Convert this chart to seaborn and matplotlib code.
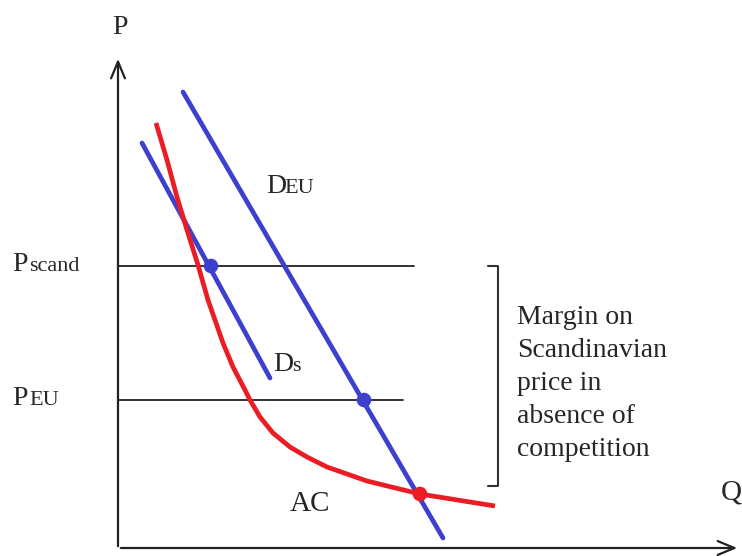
import matplotlib
matplotlib.use("Agg")
import pandas as pd
import matplotlib.pyplot as plt
import seaborn as sns

# demand lines (Q, P) end points
deu_q = [65, 325]
deu_p = [456, 10]
ds_q = [24, 152]
ds_p = [405, 170]

# price levels
p_scand = 282
p_eu = 148
scand_q = [0, 296]
eu_q = [0, 285]

# average cost curve
ac_q = [38, 49, 59, 69, 80, 90, 97, 105, 115, 127, 132, 142, 155, 172, 189, 209, 249, 302, 377]
ac_p = [425, 388, 351, 318, 283, 248, 228, 205, 181, 158, 148, 131, 115, 101, 91, 81, 67, 54, 42]

# marked points
blue_q = [93, 246]
blue_p = [282, 148]
red_q = [302]
red_p = [54]

margin_text = "Margin on\nScandinavian\nprice in\nabsence of\ncompetition"

blue = "#3d40cf"
red = "#ec1c24"

sns.set_style("white")
plt.rcParams["font.family"] = ["Liberation Serif", "DejaVu Serif"]

fig = plt.figure(figsize=(7.42, 5.56), dpi=100)
ax = fig.add_axes([0, 0, 1, 1])
ax.set_xlim(-118, 624)
ax.set_ylim(-8, 548)
ax.axis("off")

# axes with arrows
ax.annotate("", xy=(0, 492), xytext=(0, -1),
            arrowprops=dict(arrowstyle="->,head_length=1.2,head_width=0.5",
                            color="#222222", lw=1.6))
ax.annotate("", xy=(622, 0), xytext=(0, 0),
            arrowprops=dict(arrowstyle="->,head_length=1.2,head_width=0.5",
                            color="#222222", lw=1.6))

# price lines
sns.lineplot(x=scand_q, y=[p_scand, p_scand], color="#222222", lw=1.3, ax=ax)
sns.lineplot(x=eu_q, y=[p_eu, p_eu], color="#222222", lw=1.3, ax=ax)

# bracket
ax.plot([370, 380, 380, 370], [p_scand, p_scand, 62, 62], color="#333333", lw=1.5)

# curves
sns.lineplot(x=deu_q, y=deu_p, color=blue, lw=3.4, ax=ax)
sns.lineplot(x=ds_q, y=ds_p, color=blue, lw=3.4, ax=ax)
df_ac = pd.DataFrame({"Q": ac_q, "P": ac_p})
sns.lineplot(data=df_ac, x="Q", y="P", sort=False, color=red, lw=3.4, ax=ax,
             solid_joinstyle="round", solid_capstyle="butt")

sns.scatterplot(x=blue_q, y=blue_p, color=blue, s=110, edgecolor="none", ax=ax, zorder=5)
sns.scatterplot(x=red_q, y=red_p, color=red, s=110, edgecolor="none", ax=ax, zorder=5)

# labels
ax.text(2, 520, "P", fontsize=20, ha="center", va="center")
ax.text(603, 48, "Q", fontsize=21, ha="left", va="baseline")
ax.text(-106, 277, "P", fontsize=20, va="baseline")
ax.text(-89, 277, "scand", fontsize=16, va="baseline")
ax.text(-106, 143, "P", fontsize=20, va="baseline")
ax.text(-89, 143, "EU", fontsize=16, va="baseline")
ax.text(148, 355, "D", fontsize=20, va="baseline")
ax.text(166, 355, "EU", fontsize=16, va="baseline")
ax.text(155, 177, "D", fontsize=20, va="baseline")
ax.text(174, 177, "s", fontsize=16, va="baseline")
ax.text(172, 37, "AC", fontsize=21, va="baseline")
ax.text(399, 243, margin_text, fontsize=20, va="top", ha="left", linespacing=1.42)

fig.savefig("out.png", dpi=100)
